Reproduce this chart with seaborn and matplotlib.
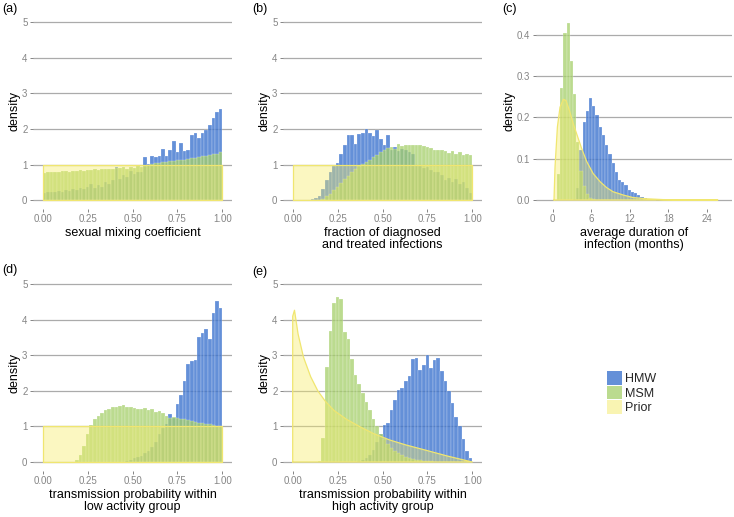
import numpy as np
import pandas as pd
import matplotlib
matplotlib.use("Agg")
import matplotlib.pyplot as plt
from matplotlib.patches import Patch
import seaborn as sns

# ── Histogram heights (density per bin) ─────────────────────────────────────
# panels (a), (b), (d), (e): 50 bins of width 0.02 on [0, 1]
# (a) sexual mixing coefficient
HMW_A = [0.20, 0.22, 0.24, 0.23, 0.25, 0.24, 0.27, 0.26, 0.30, 0.28,
         0.33, 0.30, 0.38, 0.45, 0.35, 0.42, 0.38, 0.50, 0.44, 0.55,
         0.92, 0.60, 0.70, 0.66, 0.82, 0.74, 0.80, 0.78, 1.20, 1.02,
         1.25, 1.20, 1.25, 1.45, 1.25, 1.40, 1.65, 1.35, 1.60, 1.38,
         1.40, 1.82, 1.88, 1.75, 1.90, 1.97, 2.10, 2.30, 2.48, 2.55]
MSM_A = [0.77, 0.78, 0.80, 0.79, 0.80, 0.82, 0.81, 0.80, 0.83, 0.82,
         0.84, 0.83, 0.85, 0.84, 0.86, 0.85, 0.87, 0.86, 0.88, 0.87,
         0.90, 0.89, 0.92, 0.88, 0.93, 0.91, 0.95, 0.92, 0.96, 1.00,
         1.02, 1.04, 1.05, 1.07, 1.08, 1.09, 1.10, 1.12, 1.13, 1.14,
         1.16, 1.18, 1.19, 1.21, 1.23, 1.25, 1.27, 1.29, 1.31, 1.35]

# (b) fraction of diagnosed and treated infections
HMW_B = [0.00, 0.00, 0.00, 0.00, 0.01, 0.03, 0.06, 0.12, 0.30, 0.55,
         0.80, 0.95, 1.03, 1.30, 1.55, 1.84, 1.82, 1.58, 1.85, 1.90,
         2.01, 1.88, 1.80, 1.98, 1.72, 1.55, 1.84, 1.42, 1.48, 1.38,
         1.45, 1.40, 1.35, 1.30, 0.98, 0.95, 0.90, 0.92, 0.85, 0.80,
         0.78, 0.70, 0.55, 0.62, 0.50, 0.58, 0.45, 0.52, 0.35, 0.20]
MSM_B = [0.00, 0.00, 0.00, 0.00, 0.00, 0.00, 0.00, 0.01, 0.04, 0.10,
         0.18, 0.28, 0.38, 0.48, 0.58, 0.68, 0.78, 0.86, 0.95, 1.02,
         1.08, 1.14, 1.20, 1.27, 1.35, 1.42, 1.47, 1.50, 1.45, 1.57,
         1.52, 1.55, 1.56, 1.55, 1.56, 1.55, 1.53, 1.50, 1.47, 1.40,
         1.41, 1.40, 1.38, 1.32, 1.38, 1.30, 1.34, 1.28, 1.30, 1.26]

# (d) transmission probability within low activity group
HMW_D = [0.00] * 23 + [
         0.02, 0.07, 0.10, 0.14, 0.18, 0.24, 0.32, 0.42, 0.55, 0.80,
         0.95, 1.08, 1.35, 1.25, 1.64, 1.88, 2.29, 2.76, 2.83, 2.87,
         3.53, 3.64, 3.75, 3.47, 4.20, 4.52, 4.33]
MSM_D = [0.00] * 9 + [
         0.06, 0.20, 0.45, 0.80, 1.05, 1.20, 1.30, 1.37, 1.45, 1.50,
         1.54, 1.56, 1.58, 1.59, 1.55, 1.56, 1.53, 1.48, 1.50, 1.52,
         1.45, 1.48, 1.42, 1.44, 1.38, 1.30, 1.25, 1.28, 1.25, 1.22,
         1.20, 1.17, 1.15, 1.12, 1.10, 1.09, 1.07, 1.06, 1.04, 1.02,
         1.00]

# (e) transmission probability within high activity group
HMW_E = [0.00] * 18 + [
         0.02, 0.05, 0.10, 0.20, 0.35, 0.55, 0.80, 1.05, 1.10, 1.47,
         1.75, 2.04, 2.08, 2.27, 2.42, 2.89, 2.93, 2.58, 2.74, 3.00,
         2.65, 2.87, 2.93, 2.55, 2.27, 2.00, 1.66, 1.28, 1.00, 0.65,
         0.30, 0.12]
MSM_E = [0.00] * 7 + [
         0.03, 0.68, 2.68, 3.69, 4.47, 4.63, 4.58, 3.65, 3.45, 2.89,
         2.46, 2.20, 1.94, 1.68, 1.45, 1.20, 1.00, 0.80, 0.65, 0.50,
         0.40, 0.32, 0.25, 0.20, 0.15, 0.12, 0.09, 0.07, 0.05, 0.04,
         0.03, 0.02, 0.01] + [0.00] * 10

# (c) average duration of infection (months): bins of width 0.5 from 0.15
HMW_C = [0, 0, 0, 0, 0, 0, 0.003, 0.03, 0.12, 0.19,
         0.215, 0.246, 0.227, 0.205, 0.177, 0.157, 0.134, 0.111, 0.089, 0.068,
         0.048, 0.044, 0.036, 0.024, 0.020, 0.016, 0.012, 0.008, 0.005, 0.003,
         0.002, 0.001]
MSM_C = [0, 0.063, 0.272, 0.404, 0.429, 0.336, 0.256, 0.14, 0.07, 0.035,
         0.015, 0.006, 0.002, 0, 0, 0, 0, 0, 0, 0,
         0, 0, 0, 0, 0, 0, 0, 0, 0, 0,
         0, 0]

# prior densities (outline of the filled area)
PRIOR_UNIF_X = [0, 0, 1, 1, 0]
PRIOR_UNIF_Y = [0, 1, 1, 0, 0]
PRIOR_C_X = [0.2, 0.36, 0.73, 1.14, 1.66, 2.07, 2.6, 3.2, 3.8, 4.5, 5.3, 6.3,
             7.4, 8.4, 9.4, 11.0, 12.5, 14.6, 17.2, 19.8, 25.7, 0.2]
PRIOR_C_Y = [0.0, 0.08, 0.177, 0.225, 0.244, 0.241, 0.217, 0.185, 0.157, 0.125,
             0.093, 0.064, 0.044, 0.030, 0.020, 0.012, 0.006, 0.003, 0.001,
             0.0005, 0.0, 0.0]
PRIOR_E_X = [0.0, 0.0, 0.01, 0.03, 0.06, 0.10, 0.14, 0.18, 0.23, 0.30, 0.375,
             0.45, 0.54, 0.63, 0.75, 0.86, 0.95, 1.0, 0.0]
PRIOR_E_Y = [0.0, 4.1, 4.27, 3.6, 2.95, 2.4, 2.0, 1.72, 1.45, 1.2, 0.99,
             0.8, 0.62, 0.48, 0.32, 0.17, 0.06, 0.0, 0.0]

GROUPS = ["HMW", "MSM", "Prior"]

# ── Style ───────────────────────────────────────────────────────────────────
HMW_COLOR = "#3d74cf"
MSM_COLOR = "#a5cf6a"
PRIOR_FILL = "#f5eb66"
PRIOR_LINE = "#f0e670"
GRID_COLOR = "#ababab"
TICK_COLOR = "#858585"

sns.set_theme(style="white")
plt.rcParams["font.family"] = ["Liberation Sans", "DejaVu Sans"]

W, H = 734, 517
fig = plt.figure(figsize=(W / 100, H / 100), dpi=100)


def px_axes(left, right, top, bottom):
    """Axes placed by pixel box (origin top-left)."""
    return fig.add_axes([left / W, 1 - bottom / H, (right - left) / W, (bottom - top) / H])


def draw_panel(ax, edges, hmw, msm, prior_x, prior_y, xlim, ylim, xticks, yticks,
               xticklabels, yticklabels, xlabel):
    centers = (edges[:-1] + edges[1:]) / 2
    df = pd.DataFrame({"x": centers, "hmw": hmw, "msm": msm})
    sns.histplot(data=df, x="x", weights="hmw", bins=list(edges), stat="count",
                 color=HMW_COLOR, alpha=0.8, edgecolor="white", linewidth=0.15, ax=ax)
    sns.histplot(data=df, x="x", weights="msm", bins=list(edges), stat="count",
                 color=MSM_COLOR, alpha=0.75, edgecolor="white", linewidth=0.15, ax=ax)
    ax.fill(prior_x, prior_y, color=PRIOR_FILL, alpha=0.4, lw=0, zorder=3)
    ax.plot(prior_x, prior_y, color=PRIOR_LINE, lw=0.9, zorder=4)

    ax.set_xlim(*xlim)
    ax.set_ylim(*ylim)
    ax.set_xticks(xticks)
    ax.set_xticklabels(xticklabels)
    ax.set_yticks(yticks)
    ax.set_yticklabels(yticklabels)
    ax.set_axisbelow(True)
    ax.grid(False)
    ax.yaxis.grid(True, color=GRID_COLOR, lw=0.9)
    for s in ax.spines.values():
        s.set_visible(False)
    ax.tick_params(axis="both", length=2.5, width=0.7, color=TICK_COLOR,
                   labelcolor=TICK_COLOR, labelsize=7, pad=1.5,
                   bottom=True, left=True)
    ax.set_xlabel(xlabel, fontsize=9, color="black", labelpad=1.5, linespacing=1.1)
    ax.set_ylabel("density", fontsize=9, color="black", labelpad=1)


unit_edges = np.linspace(0, 1, len(HMW_A) + 1)
c_edges = 0.15 + 0.5 * np.arange(len(HMW_C) + 1)

unit_xticks = [0, 0.25, 0.5, 0.75, 1.0]
unit_xlabels = ["0.00", "0.25", "0.50", "0.75", "1.00"]
unit_yticks = [0, 1, 2, 3, 4, 5]
unit_ylabels = ["0", "1", "2", "3", "4", "5"]
UNIT_XLIM = (-0.054, 1.054)
UNIT_YLIM = (-0.25, 5.25)

# top row
ax_a = px_axes(33, 232, 13.6, 208.9)
draw_panel(ax_a, unit_edges, HMW_A, MSM_A, PRIOR_UNIF_X, PRIOR_UNIF_Y,
           UNIT_XLIM, UNIT_YLIM, unit_xticks, unit_yticks, unit_xlabels, unit_ylabels,
           "sexual mixing coefficient")

ax_b = px_axes(283, 482, 13.6, 208.9)
draw_panel(ax_b, unit_edges, HMW_B, MSM_B, PRIOR_UNIF_X, PRIOR_UNIF_Y,
           UNIT_XLIM, UNIT_YLIM, unit_xticks, unit_yticks, unit_xlabels, unit_ylabels,
           "fraction of diagnosed\nand treated infections")

ax_c = px_axes(536, 732, 13.6, 208.9)
draw_panel(ax_c, c_edges, HMW_C, MSM_C, PRIOR_C_X, PRIOR_C_Y,
           (-2.6, 27.9), (-0.0215, 0.4515), [0, 6, 12, 18, 24],
           [0, 0.1, 0.2, 0.3, 0.4], ["0", "6", "12", "18", "24"],
           ["0.0", "0.1", "0.2", "0.3", "0.4"],
           "average duration of\ninfection (months)")

# bottom row
ax_d = px_axes(33, 232, 275.4, 470.9)
draw_panel(ax_d, unit_edges, HMW_D, MSM_D, PRIOR_UNIF_X, PRIOR_UNIF_Y,
           UNIT_XLIM, UNIT_YLIM, unit_xticks, unit_yticks, unit_xlabels, unit_ylabels,
           "transmission probability within\nlow activity group")

ax_e = px_axes(283, 482, 275.4, 470.9)
draw_panel(ax_e, unit_edges, HMW_E, MSM_E, PRIOR_E_X, PRIOR_E_Y,
           UNIT_XLIM, UNIT_YLIM, unit_xticks, unit_yticks, unit_xlabels, unit_ylabels,
           "transmission probability within\nhigh activity group")

# panel tags
for tag, x, y in [("(a)", 2, 3), ("(b)", 252, 3), ("(c)", 502, 3),
                  ("(d)", 2, 264), ("(e)", 252, 266)]:
    fig.text(x / W, 1 - y / H, tag, fontsize=9, color="black", ha="left", va="top")

# legend in the empty sixth slot
handles = [
    Patch(facecolor=HMW_COLOR, alpha=0.8, edgecolor="none"),
    Patch(facecolor=MSM_COLOR, alpha=0.75, edgecolor="none"),
    Patch(facecolor=PRIOR_FILL, alpha=0.5, edgecolor="none"),
]
fig.legend(handles, GROUPS, loc="upper left", bbox_to_anchor=(607 / W, 1 - 371 / H),
           frameon=False, fontsize=9, handlelength=1.2, handleheight=1.3,
           handletextpad=0.25, labelspacing=0.05, borderpad=0, borderaxespad=0)

plt.savefig("out.png", dpi=100, facecolor="white")
plt.close()
